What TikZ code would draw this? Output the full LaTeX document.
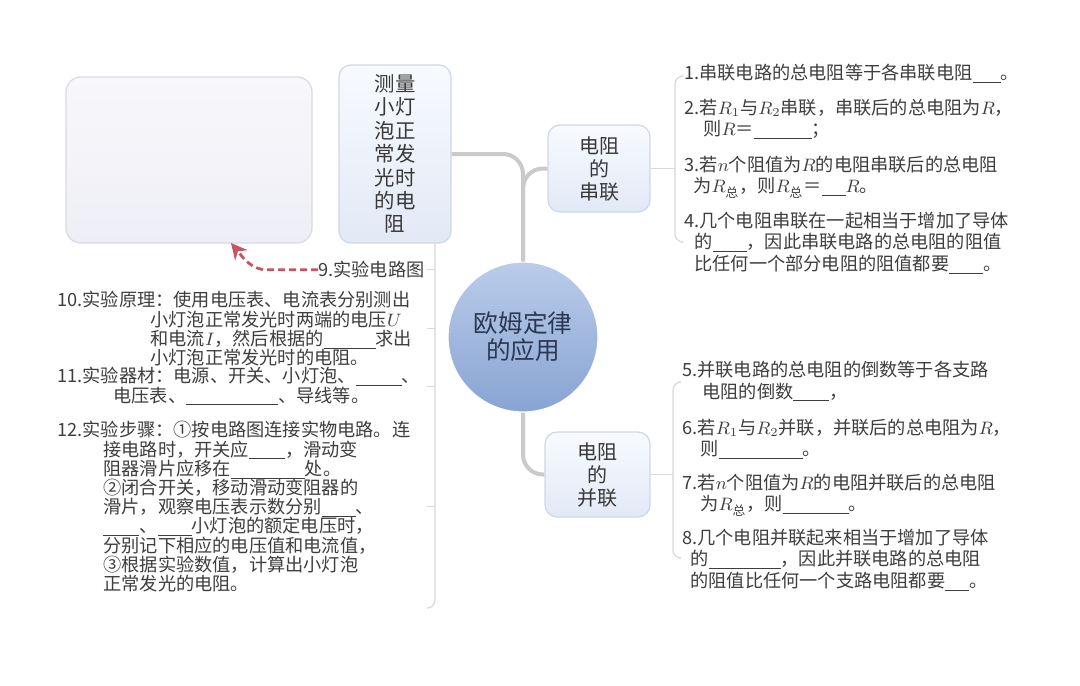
\documentclass[tikz,border=0pt]{standalone}
\usepackage{amsmath}
\usepackage{fontspec}
\setmainfont{Noto Sans CJK SC}
\usetikzlibrary{arrows.meta}
\definecolor{trunkgray}{HTML}{CACACA}
\definecolor{twiggray}{HTML}{D8D8D8}
\definecolor{boxedge}{HTML}{CFD7E6}
\definecolor{boxtop}{HTML}{F8FAFE}
\definecolor{boxbot}{HTML}{E2E9F6}
\definecolor{picedge}{HTML}{DADAE4}
\definecolor{pictop}{HTML}{F8F8FB}
\definecolor{picbot}{HTML}{EEEEF6}
\definecolor{balltop}{HTML}{BACCE9}
\definecolor{ballbot}{HTML}{88A4D3}
\definecolor{ballink}{HTML}{2C3853}
\definecolor{inkgray}{HTML}{3E3E3E}
\definecolor{arrowred}{HTML}{C65464}
\newcommand{\blank}[1]{\rule[-1.6pt]{#1}{0.4pt}}

\begin{document}
\begin{tikzpicture}[x=0.5pt,y=-0.5pt,
  ball/.style={circle,minimum size=75pt,inner sep=0,draw=white,line width=0.6pt,
    top color=balltop,bottom color=ballbot,text=ballink,align=center,
    font=\fontsize{12.3}{13.6}\selectfont},
  topic/.style={rectangle,rounded corners=6pt,draw=boxedge,line width=0.6pt,
    top color=boxtop,bottom color=boxbot,text=inkgray!90!black,align=center,inner sep=0,
    font=\fontsize{10}{11.5}\selectfont},
  picbox/.style={rectangle,rounded corners=7.5pt,draw=picedge,line width=0.6pt,
    top color=pictop,bottom color=picbot,inner sep=0},
  item/.style={anchor=north west,inner sep=0,align=left,text=inkgray,
    font=\fontsize{9.1}{10.6}\selectfont},
  leftitem/.style={item,font=\fontsize{9.1}{9.6}\selectfont},
  trunk/.style={draw=trunkgray,line width=2pt,rounded corners=10pt},
  twig/.style={draw=twiggray,line width=0.6pt,rounded corners=4pt},
  hint/.style={draw=arrowred,line width=1.4pt,dashed,dash pattern=on 3.5pt off 2pt,
    -{Stealth[length=8pt,width=8pt]}}]
\fill[white] (0,0) rectangle (1080,685);
\useasboundingbox (0,0) rectangle (1080,685);

\node[ball] (ohm) at (523,337) {欧姆定律\\的应用};
\node[topic,minimum width=51pt,minimum height=43.5pt] (series) at (599,168.5) {电阻\\的\\串联};
\node[topic,minimum width=52.5pt,minimum height=42.5pt] (parallel) at (597.5,474.5) {电阻\\的\\并联};
\node[topic,minimum width=56pt,minimum height=89pt,font=\fontsize{10.2}{11.7}\selectfont] (lamp) at (395,154)
  {测量\\小灯\\泡正\\常发\\光时\\的电\\阻};
\node[picbox,minimum width=123pt,minimum height=83pt] (photo) at (189,160) {};

\draw[trunk] (lamp.east) -| (ohm.north);
\draw[trunk] (ohm.north) |- (series.west);
\draw[trunk] (ohm.south) |- (parallel.west);

\node[item] (s1) at (684,64) {1.串联电路的总电阻等于各串联电阻\blank{14pt}。};
\node[item] (s2) at (684,99) {2.若$R_1$与$R_2$串联，串联后的总电阻为$R$，\\\hspace*{9.5pt}则$R$＝\blank{29pt}；};
\node[item] (s3) at (684,156) {3.若$n$个阻值为$R$的电阻串联后的总电阻\\\hspace*{4.5pt}为$R_{\text{总}}$，则$R_{\text{总}}$＝\blank{12pt}$R$。};
\node[item] (s4) at (684,212) {4.几个电阻串联在一起相当于增加了导体\\\hspace*{5pt}的\blank{17pt}，因此串联电路的总电阻的阻值\\\hspace*{5pt}比任何一个部分电阻的阻值都要\blank{17pt}。};

\node[item] (p5) at (682,361) {5.并联电路的总电阻的倒数等于各支路\\\hspace*{10pt}电阻的倒数\blank{18pt}，};
\node[item] (p6) at (682,419) {6.若$R_1$与$R_2$并联，并联后的总电阻为$R$，\\\hspace*{9pt}则\blank{42pt}。};
\node[item] (p7) at (682,474) {7.若$n$个阻值为$R$的电阻并联后的总电阻\\\hspace*{9pt}为$R_{\text{总}}$，则\blank{33pt}。};
\node[item] (p8) at (682,529) {8.几个电阻并联起来相当于增加了导体\\\hspace*{4pt}的\blank{36pt}，因此并联电路的总电阻\\\hspace*{4pt}的阻值比任何一个支路电阻都要\blank{12pt}。};

\node[leftitem] (q9) at (318,261) {9.实验电路图};
\node[leftitem] (q10) at (57,291) {10.实验原理：使用电压表、电流表分别测出\\\hspace*{46.5pt}小灯泡正常发光时两端的电压$U$\\\hspace*{46.5pt}和电流$I$，然后根据的\blank{26pt}求出\\\hspace*{46.5pt}小灯泡正常发光时的电阻。};
\node[leftitem] (q11) at (57,367) {11.实验器材：电源、开关、小灯泡、\blank{23pt}、\\\hspace*{28pt}电压表、\blank{46pt}、导线等。};
\node[leftitem] (q12) at (57,421) {12.实验步骤：①按电路图连接实物电路。连\\\hspace*{23pt}接电路时，开关应\blank{18pt}，滑动变\\\hspace*{23pt}阻器滑片应移在\blank{37pt}处。\\\hspace*{23pt}②闭合开关，移动滑动变阻器的\\\hspace*{23pt}滑片，观察电压表示数分别\blank{17pt}、\\\hspace*{23pt}\blank{18pt}、\blank{17pt}小灯泡的额定电压时，\\\hspace*{23pt}分别记下相应的电压值和电流值，\\\hspace*{23pt}③根据实验数值，计算出小灯泡\\\hspace*{23pt}正常发光的电阻。};

\coordinate (sbrace) at (675,168.5);
\coordinate (pbrace) at (673,474.5);
\coordinate (rtop) at (435,243);
\coordinate (rbot) at (428,608);
\coordinate (tip) at (231,243);

\draw[twig] (series.east) -- (sbrace);
\draw[twig] (681,76) -| (sbrace) |- (681,242);
\draw[twig] (parallel.east) -- (pbrace);
\draw[twig] (679,382) -| (pbrace) |- (679,558);
\draw[twig] (rtop) |- (rbot);
\draw[twig] (q9.east -| rtop) -- ++(-8,0);
\draw[twig] (q10.east -| rtop) -- ++(-8,0);
\draw[twig] (q11.east -| rtop) -- ++(-8,0);
\draw[twig] (q12.east -| rtop) -- ++(-8,0);

\draw[hint] (q9.west) -- ++(-50,0) to[out=180,in=-50] (tip);
\end{tikzpicture}
\end{document}
